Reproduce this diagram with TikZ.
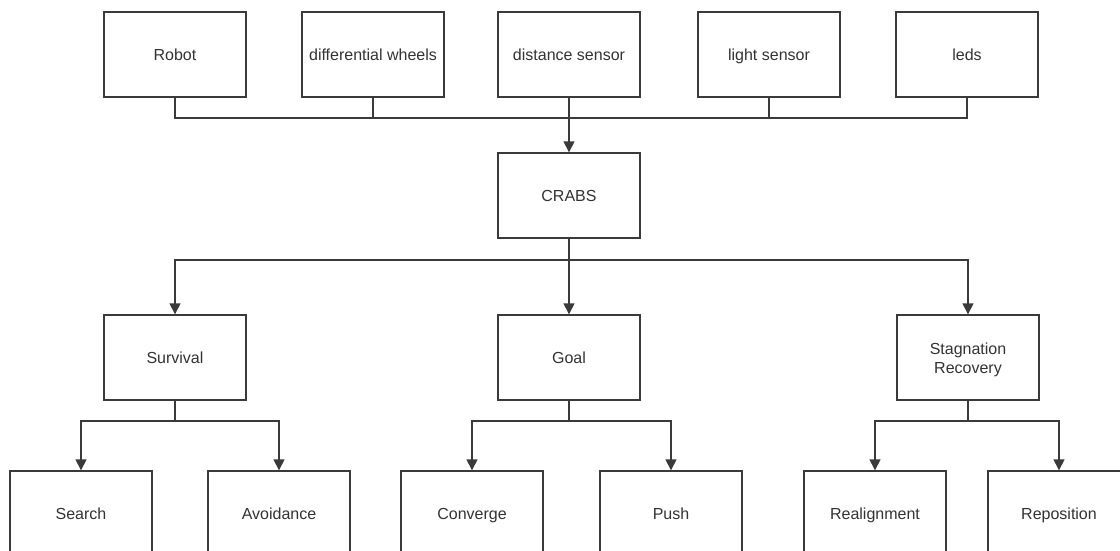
\documentclass[tikz,border=0pt]{standalone}
\usepackage{fontspec}
\setmainfont{Liberation Sans}
\usetikzlibrary{arrows.meta}
\definecolor{ln}{HTML}{3A3A3A}
\definecolor{tx}{HTML}{333333}
\begin{document}
\begin{tikzpicture}[x=1pt,y=-1pt,
  box/.style={draw=ln,line width=1.4pt,minimum width=142pt,minimum height=85pt,inner sep=0pt,
    font=\fontsize{16}{19}\selectfont,text=tx,align=center,text height=11.5pt,text depth=0pt},
  conn/.style={draw=ln,line width=1.4pt},
  arr/.style={conn,-{Triangle[length=11pt,width=11pt]}}]
\useasboundingbox (0,0) rectangle (1120,550);
\clip (0,0) rectangle (1120,550);
\fill[white] (0,0) rectangle (1120,550);
% top row
\node[box] (robot) at (175,54.5) {Robot};
\node[box] (wheels) at (373,54.5) {differential wheels};
\node[box] (dist) at (569,54.5) {distance sensor};
\node[box] (light) at (769,54.5) {light sensor};
\node[box] (leds) at (967,54.5) {leds};
% middle
\node[box] (crabs) at (569,195.5) {CRABS};
\node[box] (surv) at (175,357.5) {Survival};
\node[box] (goal) at (569,357.5) {Goal};
\node[box,text height=31.5pt] (stag) at (968,357.5) {Stagnation\\Recovery};
% bottom
\node[box] (search) at (81,513.5) {Search};
\node[box] (avoid) at (279,513.5) {Avoidance};
\node[box] (conv) at (472,513.5) {Converge};
\node[box] (push) at (671,513.5) {Push};
\node[box] (realign) at (875,513.5) {Realignment};
\node[box] (repos) at (1059,513.5) {Reposition};
% bus top
\coordinate (bus1) at (569,118);
\draw[conn] (robot.south) |- (bus1);
\draw[conn] (wheels.south) |- (bus1);
\draw[conn] (light.south) |- (bus1);
\draw[conn] (leds.south) |- (bus1);
\draw[arr] (dist.south) -- (crabs.north);
% second level
\coordinate (bus2) at (569,260);
\draw[conn] (crabs.south) -- (bus2);
\draw[arr] (bus2) -| (surv.north);
\draw[arr] (bus2) -| (stag.north);
\draw[arr] (bus2) -- (goal.north);
% third level
\coordinate (b3a) at (175,421);
\coordinate (b3b) at (569,421);
\coordinate (b3c) at (968,421);
\draw[conn] (surv.south) -- (b3a);
\draw[arr] (b3a) -| (search.north);
\draw[arr] (b3a) -| (avoid.north);
\draw[conn] (goal.south) -- (b3b);
\draw[arr] (b3b) -| (conv.north);
\draw[arr] (b3b) -| (push.north);
\draw[conn] (stag.south) -- (b3c);
\draw[arr] (b3c) -| (realign.north);
\draw[arr] (b3c) -| (repos.north);
\end{tikzpicture}
\end{document}
